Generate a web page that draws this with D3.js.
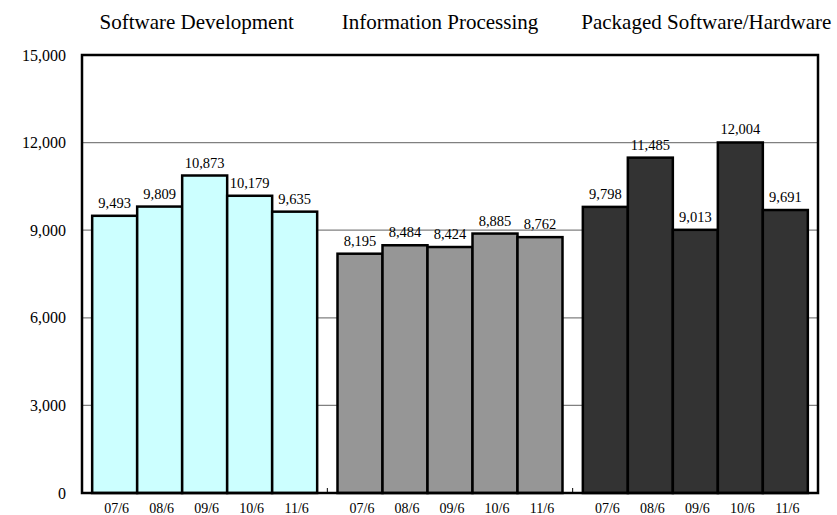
<!DOCTYPE html>
<html lang="en">
<head>
    <meta charset="UTF-8">
    <title>Sales by segment</title>
    <script src="https://d3js.org/d3.v7.min.js"></script>
    <style>
        body { margin: 0; background: #fff; }
        svg text { font-family: "Liberation Serif", "Times New Roman", serif; fill: #000; }
    </style>
</head>
<body>
    <svg width="837" height="515"></svg>

    <script>
        // data
        const groups = ["Software Development", "Information Processing", "Packaged Software/Hardware"];
        const periods = ["07/6", "08/6", "09/6", "10/6", "11/6"];
        const softwareDev = [9493, 9809, 10873, 10179, 9635];
        const infoProcessing = [8195, 8484, 8424, 8885, 8762];
        const packaged = [9798, 11485, 9013, 12004, 9691];
        const yTicks = [0, 3000, 6000, 9000, 12000, 15000];
        const colors = ["#ccffff", "#969696", "#333333"];

        const seriesValues = [softwareDev, infoProcessing, packaged];

        const margin = { top: 55, right: 19, bottom: 22, left: 82 },
              width = 837 - margin.left - margin.right,
              height = 515 - margin.top - margin.bottom;

        // titles are not exactly centred over their groups in the original
        const titleShift = [-8, -10, 11];

        const svg = d3.select("svg")
          .append("g")
            .attr("transform", "translate(" + margin.left + "," + margin.top + ")");

        const y = d3.scaleLinear()
            .domain([0, 15000])
            .range([height, 0]);

        const xGroup = d3.scaleBand()
            .domain(groups)
            .range([0, width])
            .padding(0);

        const xPeriod = d3.scaleBand()
            .domain(periods)
            .range([0, xGroup.bandwidth()])
            .paddingInner(0)
            .paddingOuter(0.226);

        // gridlines
        svg.append("g")
            .selectAll("line")
            .data(yTicks.filter(t => t > 0 && t < 15000))
          .enter().append("line")
            .attr("x1", 0)
            .attr("x2", width)
            .attr("y1", d => y(d))
            .attr("y2", d => y(d))
            .attr("stroke", "#808080")
            .attr("stroke-width", 1.2);

        // y labels
        svg.append("g")
            .call(d3.axisLeft(y).tickValues(yTicks).tickSize(0).tickPadding(16).tickFormat(d3.format(",")))
            .call(g => g.select(".domain").remove())
          .selectAll(".tick text")
            .style("font-size", "16px")
            .style("font-family", "Liberation Serif, serif");

        const rows = groups.map((g, i) => periods.map((p, j) => ({ group: g, gi: i, period: p, value: seriesValues[i][j] })));

        const groupSel = svg.selectAll(".grp")
            .data(rows)
          .enter().append("g")
            .attr("class", "grp")
            .attr("transform", (d, i) => "translate(" + xGroup(groups[i]) + ",0)");

        groupSel.selectAll("rect")
            .data(d => d)
          .enter().append("rect")
            .attr("x", d => xPeriod(d.period))
            .attr("y", d => y(d.value))
            .attr("width", xPeriod.bandwidth())
            .attr("height", d => height - y(d.value))
            .attr("fill", d => colors[d.gi])
            .attr("stroke", "#000")
            .attr("stroke-width", 2.5);

        groupSel.selectAll(".val")
            .data(d => d)
          .enter().append("text")
            .attr("class", "val")
            .attr("x", d => xPeriod(d.period) + xPeriod.bandwidth() / 2)
            .attr("y", d => y(d.value) - 8)
            .attr("text-anchor", "middle")
            .style("font-size", "14.5px")
            .text(d => d3.format(",")(d.value));

        groupSel.selectAll(".per")
            .data(d => d)
          .enter().append("text")
            .attr("class", "per")
            .attr("x", d => xPeriod(d.period) + xPeriod.bandwidth() / 2 + 2)
            .attr("y", height + 20)
            .attr("text-anchor", "middle")
            .style("font-size", "14px")
            .text(d => d.period);

        // group titles
        svg.selectAll(".title")
            .data(groups)
          .enter().append("text")
            .attr("class", "title")
            .attr("x", (d, i) => xGroup(d) + xGroup.bandwidth() / 2 + titleShift[i])
            .attr("y", -26)
            .attr("text-anchor", "middle")
            .style("font-size", "21px")
            .text(d => d);

        // small ticks between groups
        svg.append("g")
            .selectAll("line")
            .data(groups.slice(1))
          .enter().append("line")
            .attr("x1", d => xGroup(d))
            .attr("x2", d => xGroup(d))
            .attr("y1", height)
            .attr("y2", height - 5)
            .attr("stroke", "#000")
            .attr("stroke-width", 1);

        // plot frame
        svg.append("rect")
            .attr("x", 0)
            .attr("y", 0)
            .attr("width", width)
            .attr("height", height)
            .attr("fill", "none")
            .attr("stroke", "#000")
            .attr("stroke-width", 2.5);
    </script>
</body>
</html>
